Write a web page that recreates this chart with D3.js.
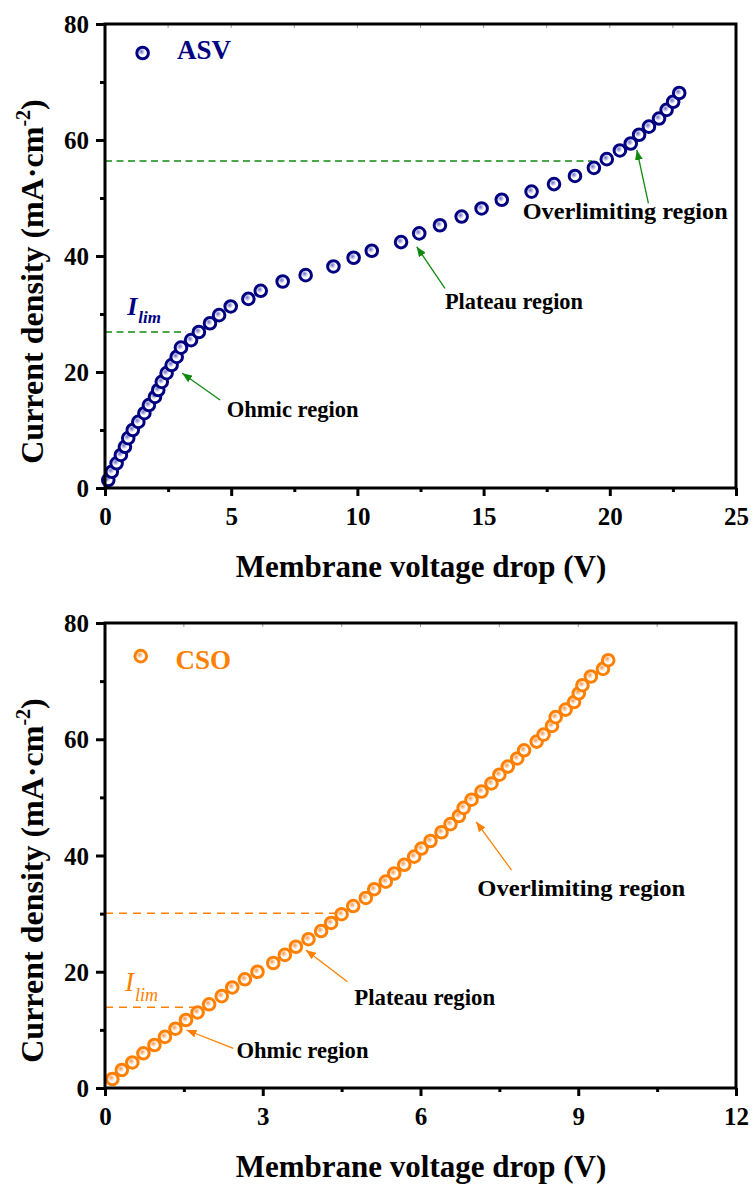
<!DOCTYPE html>
<html><head><meta charset="utf-8">
<script src="https://cdn.jsdelivr.net/npm/d3@7"></script>
<style>
body{margin:0;background:#fff}
svg{display:block}
text{font-family:"Liberation Serif","Times New Roman",serif}
</style>
</head><body>
<svg id="chart" width="752" height="1186"></svg>
<script>
// ---------- data ----------
const asvVoltage=[0.13,0.27,0.46,0.63,0.79,0.92,1.10,1.32,1.56,1.74,1.98,2.11,2.25,2.44,2.64,2.84,3.01,3.41,3.72,4.16,4.52,4.98,5.68,6.17,7.04,7.95,9.05,9.85,10.57,11.73,12.45,13.27,14.13,14.92,15.72,16.90,17.79,18.62,19.37,19.88,20.40,20.83,21.16,21.55,21.95,22.25,22.51,22.75];
const asvCurrent=[1.38,2.8,4.26,5.7,7.1,8.6,10.0,11.4,12.9,14.3,15.7,16.9,18.3,19.8,21.2,22.6,24.2,25.5,26.9,28.4,29.8,31.3,32.6,34.0,35.6,36.7,38.2,39.7,40.9,42.4,43.9,45.3,46.8,48.2,49.7,51.1,52.4,53.8,55.2,56.7,58.2,59.4,60.9,62.3,63.7,65.2,66.6,68.1];
const csoVoltage=[0.14,0.32,0.52,0.73,0.94,1.14,1.34,1.54,1.76,1.98,2.22,2.42,2.66,2.90,3.20,3.42,3.63,3.87,4.11,4.30,4.50,4.72,4.96,5.12,5.34,5.50,5.69,5.88,6.02,6.19,6.40,6.57,6.73,6.82,6.97,7.16,7.35,7.50,7.66,7.84,7.97,8.21,8.34,8.50,8.57,8.76,8.92,9.01,9.08,9.24,9.47,9.57];
const csoCurrent=[1.55,3.1,4.4,5.97,7.4,8.8,10.2,11.7,13.0,14.4,15.8,17.3,18.7,20.0,21.5,22.9,24.3,25.6,27.0,28.4,29.9,31.3,32.7,34.2,35.5,36.9,38.4,39.8,41.2,42.5,44.0,45.4,46.8,48.2,49.6,51.0,52.4,53.9,55.3,56.7,58.1,59.6,60.8,62.3,63.8,65.1,66.4,67.9,69.3,70.8,72.1,73.6];
const asvXTicks=[0,5,10,15,20,25];
const asvXMinor=[2.5,7.5,12.5,17.5,22.5];
const csoXTicks=[0,3,6,9,12];
const csoXMinor=[1.5,4.5,7.5,10.5];
const yTicks=[0,20,40,60,80];
const yMinor=[10,30,50,70];
const asvLimits=[26.9,56.4];   // dashed levels
const csoLimits=[13.9,30.05];
const asvLimitEnds=[3.2,19.3];
const csoLimitEnds=[1.71,4.47];
const regionLabels=["Ohmic region","Plateau region","Overlimiting region"];

const svg=d3.select("#chart");
const defs=svg.append("defs");

function gradient(id,c0,c1){
  const g=defs.append("radialGradient").attr("id",id).attr("cx","40%").attr("cy","38%").attr("r","58%");
  g.append("stop").attr("offset","0%").attr("stop-color",c0);
  g.append("stop").attr("offset","28%").attr("stop-color",c1);
  g.append("stop").attr("offset","55%").attr("stop-color","#ffffff");
  g.append("stop").attr("offset","100%").attr("stop-color","#ffffff");
}
gradient("gNavy","#7070c4","#b8b8e6");
gradient("gOrange","#f29a58","#f9cda6");

function arrowMarker(id,color){
  defs.append("marker").attr("id",id).attr("viewBox","0 0 10 8").attr("refX",10).attr("refY",4)
    .attr("markerWidth",10).attr("markerHeight",8).attr("markerUnits","userSpaceOnUse").attr("orient","auto")
    .append("path").attr("d","M0,0L10,4L0,8Z").attr("fill",color);
}
arrowMarker("aGreen","#0f8a0f");
arrowMarker("aOrange","#ff8000");

const panels=[
  {top:24,bottom:488,xmax:25,xTicks:asvXTicks,xMinor:asvXMinor,vx:asvVoltage,vy:asvCurrent,
   color:"#000080",grad:"gNavy",lineColor:"#0f8a0f",arrow:"aGreen",name:"ASV",
   limits:asvLimits,limitEnds:asvLimitEnds,dash:"7,4.5",
   legend:{m:[1.49,75.0],t:[2.85,73.9]},
   ilim:{x:0.88,y:29.8,iSize:26,subSize:17,weight:"bold",dy:8},
   notes:[{from:[4.56,15.17],to:[3.06,19.78],t:[4.82,12.3],w:132},
          {from:[13.47,34.43],to:[12.35,41.6],t:[13.47,30.8],w:138},
          {from:[21.53,49.09],to:[21.07,58.28],t:[16.55,46.3],w:205}]},
  {top:623,bottom:1088,xmax:12,xTicks:csoXTicks,xMinor:csoXMinor,vx:csoVoltage,vy:csoCurrent,
   color:"#ff8000",grad:"gOrange",lineColor:"#ff8000",arrow:"aOrange",name:"CSO",
   limits:csoLimits,limitEnds:csoLimitEnds,dash:"8,6",
   legend:{m:[0.68,74.3],t:[1.34,72.1]},
   ilim:{x:0.38,y:16.7,iSize:27,subSize:18,weight:"normal",dy:10},
   notes:[{from:[2.44,6.83],to:[1.55,9.98],t:[2.50,5.1],w:132},
          {from:[4.61,18.29],to:[3.82,23.74],t:[4.74,14.2],w:141},
          {from:[7.73,37.5],to:[7.06,45.8],t:[7.08,33.0],w:208}]}
];

const L=105,R=736;
panels.forEach(p=>{
  const x=d3.scaleLinear().domain([0,p.xmax]).range([L,R]);
  const y=d3.scaleLinear().domain([0,80]).range([p.bottom,p.top]);
  const g=svg.append("g");

  // dashed limit lines
  p.limits.forEach((lv,i)=>{
    g.append("line").attr("x1",x(0)).attr("x2",x(p.limitEnds[i]))
      .attr("y1",y(lv)).attr("y2",y(lv))
      .attr("stroke",p.lineColor).attr("stroke-width",1.5).attr("stroke-dasharray",p.dash);
  });

  // points
  const pts=p.vx.map((v,i)=>[v,p.vy[i]]);
  g.append("g").selectAll("circle").data(pts).join("circle")
    .attr("cx",d=>x(d[0])).attr("cy",d=>y(d[1])).attr("r",5.8)
    .attr("fill",`url(#${p.grad})`).attr("stroke",p.color).attr("stroke-width",3);

  // legend
  g.append("circle").attr("cx",x(p.legend.m[0])).attr("cy",y(p.legend.m[1])).attr("r",5.8)
    .attr("fill",`url(#${p.grad})`).attr("stroke",p.color).attr("stroke-width",3);
  g.append("text").attr("x",x(p.legend.t[0])).attr("y",y(p.legend.t[1]))
    .attr("font-size",27).attr("font-weight","bold").attr("fill",p.color).text(p.name);

  // I_lim label
  const it=g.append("text").attr("x",x(p.ilim.x)).attr("y",y(p.ilim.y)).attr("fill",p.color)
    .attr("font-style","italic").attr("font-weight",p.ilim.weight);
  it.append("tspan").attr("font-size",p.ilim.iSize).text("I");
  it.append("tspan").attr("font-size",p.ilim.subSize).attr("dy",p.ilim.dy).attr("dx",1).text("lim");

  // arrows + region labels
  p.notes.forEach((n,i)=>{
    g.append("line").attr("x1",x(n.from[0])).attr("y1",y(n.from[1]))
      .attr("x2",x(n.to[0])).attr("y2",y(n.to[1]))
      .attr("stroke",p.lineColor).attr("stroke-width",1.3).attr("marker-end",`url(#${p.arrow})`);
    g.append("text").attr("x",x(n.t[0])).attr("y",y(n.t[1]))
      .attr("font-size",22.5).attr("font-weight","bold").attr("fill","#000")
      .attr("textLength",n.w).attr("lengthAdjust","spacingAndGlyphs").text(regionLabels[i]);
  });

  // top border small inner ticks
  g.append("g").selectAll("line").data(p.xTicks.concat(p.xMinor).filter(v=>v>0&&v<p.xmax)).join("line")
    .attr("x1",d=>x(d)).attr("x2",d=>x(d)).attr("y1",p.top).attr("y2",p.top+4)
    .attr("stroke","#999").attr("stroke-width",1);

  // axes
  const xa=g.append("g").attr("transform",`translate(0,${p.bottom})`)
    .call(d3.axisBottom(x).tickValues(p.xTicks).tickSize(8).tickSizeOuter(0).tickFormat(d3.format("d")));
  xa.select(".domain").remove();
  xa.selectAll(".tick line").attr("stroke-width",3);
  xa.selectAll(".tick text").attr("y",37).attr("dy",null).attr("font-size",25).attr("font-weight","bold")
    .attr("fill","#000").attr("font-family","Liberation Serif, Times New Roman, serif");
  const xm=g.append("g").attr("transform",`translate(0,${p.bottom})`)
    .call(d3.axisBottom(x).tickValues(p.xMinor).tickSize(4).tickSizeOuter(0).tickFormat(""));
  xm.select(".domain").remove();
  xm.selectAll(".tick line").attr("stroke-width",3);

  const ya=g.append("g").attr("transform",`translate(${L},0)`)
    .call(d3.axisLeft(y).tickValues(yTicks).tickSize(9).tickPadding(7).tickSizeOuter(0));
  ya.select(".domain").remove();
  ya.selectAll(".tick line").attr("stroke-width",3);
  ya.selectAll(".tick text").attr("dy","0.34em").attr("font-size",25).attr("font-weight","bold")
    .attr("fill","#000").attr("font-family","Liberation Serif, Times New Roman, serif");
  const ym=g.append("g").attr("transform",`translate(${L},0)`)
    .call(d3.axisLeft(y).tickValues(yMinor).tickSize(5).tickSizeOuter(0).tickFormat(""));
  ym.select(".domain").remove();
  ym.selectAll(".tick line").attr("stroke-width",3);

  // frame
  g.append("rect").attr("x",L).attr("y",p.top).attr("width",R-L).attr("height",p.bottom-p.top)
    .attr("fill","none").attr("stroke","#000").attr("stroke-width",3);

  // axis titles
  g.append("text").attr("x",421).attr("y",p.bottom+89).attr("text-anchor","middle")
    .attr("font-size",31).attr("font-weight","bold").attr("fill","#000")
    .text("Membrane voltage drop (V)");
  const yt=g.append("text").attr("transform",`translate(43,${p.top+257.5}) rotate(-90)`)
    .attr("text-anchor","middle").attr("font-size",32).attr("font-weight","bold").attr("fill","#000");
  yt.append("tspan").text("Current density (mA\u00B7cm");
  yt.append("tspan").attr("font-size",20).attr("dy",-13).text("-2");
  yt.append("tspan").attr("dy",13).text(")");
});
</script>
</body></html>
